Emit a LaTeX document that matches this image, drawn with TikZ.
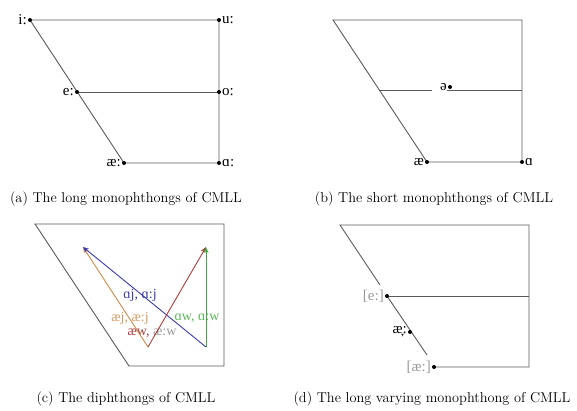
\documentclass[tikz,border=0pt]{standalone}
\usepackage{fontspec}
\newfontfamily\ipa{Liberation Serif}
\usetikzlibrary{arrows.meta}
\definecolor{ln}{HTML}{5A5A5A}
\definecolor{cor}{HTML}{D08A48}
\definecolor{cbl}{HTML}{3A3AAE}
\definecolor{cre}{HTML}{B23A3A}
\definecolor{cgr}{HTML}{3DAA3D}
\definecolor{cgy}{HTML}{999999}
\begin{document}
\begin{tikzpicture}[x=1pt,y=-1pt,
  chart/.style={draw=ln, line width=0.9pt},
  lab/.style={font=\ipa\fontsize{15}{17}\selectfont, inner sep=0pt},
  dlab/.style={font=\ipa\fontsize{14}{16}\selectfont, inner sep=0pt},
  captext/.style={font=\fontsize{14.3}{17}\selectfont, inner sep=0pt},
  arr/.style={line width=0.9pt, -{Stealth[length=6pt,width=5pt]}},
  dotfill/.style={fill=black}]
\useasboundingbox (0,0) rectangle (577,410);

% ---------- (a)
\coordinate (ai) at (30,20);
\coordinate (au) at (219,20);
\coordinate (ae) at (77,92);
\coordinate (ao) at (219,92);
\coordinate (aae) at (124,163);
\coordinate (aa) at (219,163);
\draw[chart] (au) -- (ai) -- (aae) -- (aa) -- cycle;
\draw[chart] (ae) -- (ao);
\foreach \p in {ai,au,ae,ao,aae,aa} \fill[dotfill] (\p) circle (2pt);
\node[lab, anchor=east] (Lai) at ([xshift=-3pt]ai) {i:};
\node[lab, anchor=west] (Lau) at ([xshift=3pt]au) {u:};
\node[lab, anchor=east] (Lae) at ([xshift=-3pt]ae) {e:};
\node[lab, anchor=west] (Lao) at ([xshift=3pt]ao) {o:};
\node[lab, anchor=east] (Laae) at ([xshift=-3pt]aae) {æ:};
\node[lab, anchor=west] (Laa) at ([xshift=3pt]aa) {ɑ:};
\node[captext] (capa) at (126,199) {(a) The long monophthongs of CMLL};

% ---------- (b)
\coordinate (bTL) at (333,20);
\coordinate (bTR) at (522,20);
\coordinate (bML) at (379,90);
\coordinate (bMa) at (432,90);
\coordinate (bMb) at (447,90);
\coordinate (bMR) at (522,90);
\coordinate (bae) at (427,162);
\coordinate (ba) at (522,162);
\coordinate (bschwa) at (450,87);
\draw[chart] (bTR) -- (bTL) -- (bae) -- (ba) -- cycle;
\draw[chart] (bML) -- (bMa);
\draw[chart] (bMb) -- (bMR);
\foreach \p in {bae,ba,bschwa} \fill[dotfill] (\p) circle (2pt);
\node[lab, anchor=east] (Lbschwa) at ([xshift=-3pt]bschwa) {ə};
\node[lab, anchor=east] (Lbae) at ([xshift=-3pt]bae) {æ};
\node[lab, anchor=west] (Lba) at ([xshift=3pt]ba) {ɑ};
\node[captext] (capb) at (434,199) {(b) The short monophthongs of CMLL};

% ---------- (c)
\coordinate (cTL) at (35,224);
\coordinate (cTR) at (224,224);
\coordinate (cBR) at (224,366);
\coordinate (cBL) at (129,366);
\draw[chart] (cTL) -- (cTR) -- (cBR) -- (cBL) -- cycle;
\coordinate (pA) at (83,247);
\coordinate (pB) at (206,247);
\coordinate (pC) at (148,347);
\coordinate (pD) at (206,347);
\node[dlab, text=cbl] (Lcaj) at (140,295) {ɑj, ɑ:j};
\node[dlab, text=cor!85] (Lcaej) at (130,318) {æj, æ:j};
\node[dlab, text=cgr!85] (Lcaw) at (197,318) {ɑw, ɑ:w};
\node[dlab] (Lcaew) at (152,333) {\textcolor{cre}{æw,} \textcolor{cgy}{æ:w}};
\draw[arr, cor] (pC) -- (pA);
\draw[arr, cbl] (pD) -- (pA);
\draw[arr, cre] (pC) -- (pB);
\draw[arr, cgr] (pD) -- (pB);
\node[captext] (capc) at (126,399) {(c) The diphthongs of CMLL};

% ---------- (d)
\coordinate (dTL) at (340,225);
\coordinate (dTR) at (529,225);
\coordinate (dBR) at (529,367);
\coordinate (dgap) at (380,285);
\coordinate (dE) at (387,296);
\coordinate (dER) at (529,296);
\coordinate (dAE) at (410,332);
\coordinate (dgapb) at (427,355);
\coordinate (dAEL) at (434,367);
\draw[chart] (dgap) -- (dTL) -- (dTR) -- (dBR) -- (dAEL);
\draw[chart] (dE) -- (dgapb);
\draw[chart] (dE) -- (dER);
\foreach \p in {dE,dAE,dAEL} \fill[dotfill] (\p) circle (2pt);
\node[lab, text=cgy, anchor=east] (LdE) at ([xshift=-3pt]dE) {[e:]};
\node[lab, anchor=east] (LdAE) at ([xshift=-3pt]dAE) {æ̞:};
\node[lab, text=cgy, anchor=east] (LdAEL) at ([xshift=-3pt]dAEL) {[æ:]};
\node[captext] (capd) at (432,399) {(d) The long varying monophthong of CMLL};
\end{tikzpicture}
\end{document}
